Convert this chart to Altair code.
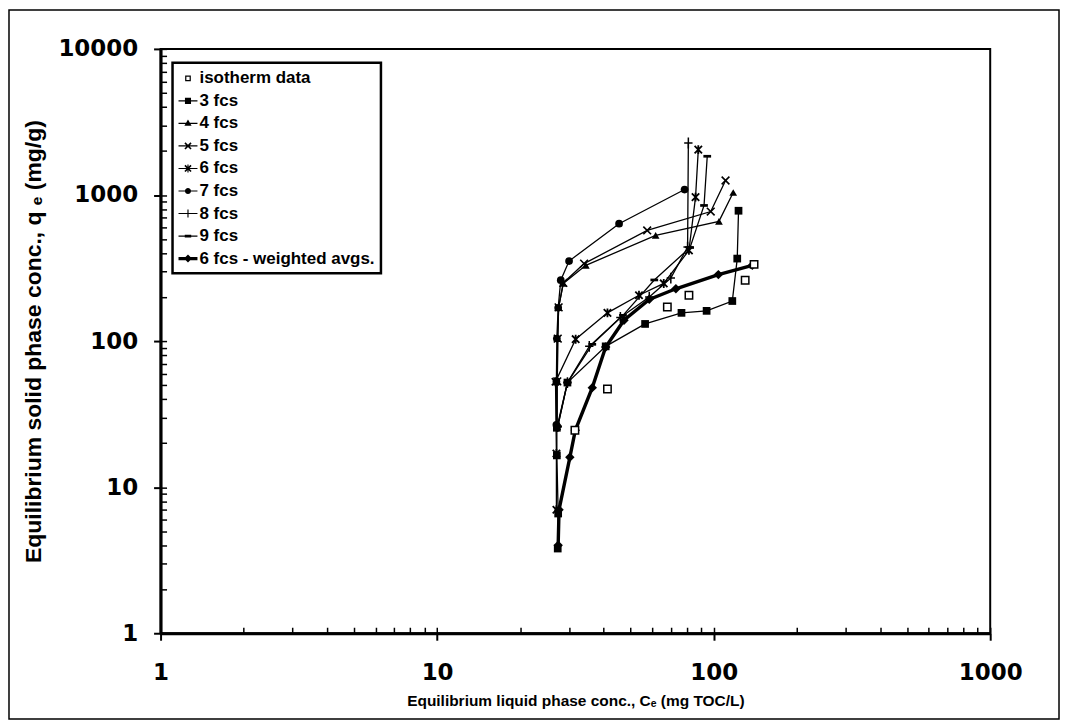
import altair as alt
import pandas as pd

# ---------------- data ----------------
series_names = ["isotherm data", "3 fcs", "4 fcs", "5 fcs", "6 fcs",
                "7 fcs", "8 fcs", "9 fcs", "6 fcs - weighted avgs."]

iso_x = [31.5, 41.3, 68.0, 81.4, 130.0, 140.0]
iso_y = [24.5, 47.0, 171.0, 206.0, 261.0, 335.0]

f3_x = [27.3, 27.4, 27.1, 27.1, 29.6, 40.7, 56.5, 76.5, 94.3, 116.8, 121.7, 123.0]
f3_y = [3.8, 6.6, 16.5, 25.5, 52.0, 92.0, 131.0, 156.0, 161.0, 188.0, 367.0, 780.0]

f4_x = [27.2, 27.2, 27.3, 27.5, 28.6, 34.5, 61.7, 104.5, 117.7]
f4_y = [26.0, 53.0, 104.0, 170.0, 248.0, 330.0, 529.0, 660.0, 1040.0]

f5_x = [27.2, 27.3, 27.5, 28.6, 34.0, 57.5, 97.6, 110.4]
f5_y = [53.0, 104.0, 170.0, 250.0, 339.0, 572.0, 770.0, 1256.0]

f6_x = [27.0, 27.0, 26.8, 31.7, 41.3, 53.7, 66.0, 81.4, 86.0, 88.0]
f6_y = [7.0, 17.0, 52.7, 103.0, 156.0, 206.0, 248.0, 418.0, 966.0, 2045.0]

f7_x = [27.0, 27.0, 27.1, 27.4, 28.0, 30.0, 45.5, 78.5]
f7_y = [26.7, 52.7, 104.0, 169.0, 261.0, 353.0, 636.0, 1090.0]

f8_x = [27.3, 29.6, 35.5, 46.0, 58.5, 70.0, 80.5, 81.0]
f8_y = [26.0, 52.0, 92.0, 145.0, 200.0, 270.0, 440.0, 2270.0]

f9_x = [27.3, 29.6, 36.4, 47.0, 61.0, 82.2, 92.3, 94.8]
f9_y = [26.0, 52.0, 95.0, 150.0, 262.0, 437.0, 848.0, 1841.0]

wavg_x = [27.4, 27.6, 30.2, 31.6, 36.4, 40.7, 47.4, 58.5, 73.0, 104.0, 138.0]
wavg_y = [4.0, 7.0, 16.0, 24.5, 48.0, 91.0, 139.0, 193.0, 228.0, 285.0, 330.0]

x_major = [1, 10, 100, 1000]
y_major = [1, 10, 100, 1000, 10000]
x_minor = [m * d for d in [1, 10, 100] for m in range(1, 10)] + [1000]
y_minor = [m * d for d in [1, 10, 100, 1000] for m in range(1, 10)] + [10000]

x_title = "Equilibrium liquid phase conc., Cₑ (mg TOC/L)"
y_title = "Equilibrium solid phase conc., q   ₑ (mg/g)"

# ---------------- table ----------------
all_series = [
    (series_names[0], iso_x, iso_y),
    (series_names[1], f3_x, f3_y),
    (series_names[2], f4_x, f4_y),
    (series_names[3], f5_x, f5_y),
    (series_names[4], f6_x, f6_y),
    (series_names[5], f7_x, f7_y),
    (series_names[6], f8_x, f8_y),
    (series_names[7], f9_x, f9_y),
    (series_names[8], wavg_x, wavg_y),
]
rows = []
for name, xs_, ys_ in all_series:
    for i, (a, b) in enumerate(zip(xs_, ys_)):
        rows.append({"series": name, "x": a, "y": b, "i": i})
df = pd.DataFrame(rows)

W, H = 832, 586
FONT = "Liberation Sans"
NUMFONT = "DejaVu Sans"

xsc = alt.Scale(type="log", domain=[1, 1000], nice=False)
ysc = alt.Scale(type="log", domain=[1, 10000], nice=False)

x_plain = alt.X("x:Q", scale=xsc, axis=None)
y_plain = alt.Y("y:Q", scale=ysc, axis=None)

x_main = alt.X("x:Q", scale=xsc, axis=alt.Axis(
    values=x_major, format="d", tickSize=7, tickWidth=2, domainWidth=3,
    labelPadding=21, labelFlush=False, labelFont=NUMFONT, labelFontSize=23,
    title=x_title, titlePadding=9, titleFontSize=15.5, grid=False))
y_main = alt.Y("y:Q", scale=ysc, axis=alt.Axis(
    values=y_major, format="d", tickSize=7, tickWidth=2, domainWidth=3,
    labelPadding=16, labelFont=NUMFONT, labelFontSize=23,
    title=y_title, titlePadding=12, titleFontSize=23, grid=False))

x_in = alt.X("x:Q", scale=xsc, axis=alt.Axis(
    orient="top", offset=-H, values=x_minor, labels=False, domain=False,
    tickSize=6, tickWidth=1.5, title=None, grid=False))
y_in = alt.Y("y:Q", scale=ysc, axis=alt.Axis(
    orient="right", offset=-W, values=y_minor, labels=False, domain=False,
    tickSize=6, tickWidth=1.5, title=None, grid=False))

def sel(name):
    return alt.datum.series == name

frame = alt.Chart(pd.DataFrame({"f": [0]})).mark_rect(
    fillOpacity=0, stroke="black", strokeWidth=1.5
).encode(x=alt.value(-152), x2=alt.value(901), y=alt.value(-39), y2=alt.value(672))

thin_names = series_names[1:8]
thin = alt.Chart(df).transform_filter(
    alt.FieldOneOfPredicate(field="series", oneOf=thin_names)
).mark_line(color="black", strokeWidth=1.3).encode(
    x=x_main, y=y_main, detail="series:N", order="i:Q")

heavy = alt.Chart(df).transform_filter(sel(series_names[8])).mark_line(
    color="black", strokeWidth=3.4).encode(x=x_plain, y=y_plain, order="i:Q")

X_P = "M-1,-1L1,1M-1,1L1,-1"
AST_P = "M-1,-1L1,1M-1,1L1,-1M0,-1.2L0,1.2"
PLUS_P = "M-1,0L1,0M0,-1.3L0,1.3"
DASH_P = "M-1,-0.35L1,-0.35L1,0.35L-1,0.35Z"

def pts(name, shape, size, filled=True, sw=1.0):
    if filled:
        m = alt.Chart(df).transform_filter(sel(name)).mark_point(
            shape=shape, size=size, filled=True, color="black", opacity=1)
    else:
        m = alt.Chart(df).transform_filter(sel(name)).mark_point(
            shape=shape, size=size, filled=False, color="black", opacity=1,
            strokeWidth=sw)
    return m.encode(x=x_plain, y=y_plain)

p3 = pts(series_names[1], "square", 60)
p4 = pts(series_names[2], "triangle-up", 60)
p5 = pts(series_names[3], X_P, 60, filled=False, sw=1.6)
p6 = pts(series_names[4], AST_P, 55, filled=False, sw=1.8)
p7 = pts(series_names[5], "circle", 60)
p8 = pts(series_names[6], PLUS_P, 70, filled=False, sw=1.5)
p9 = pts(series_names[7], DASH_P, 60)
pw = pts(series_names[8], "diamond", 90)

iso = alt.Chart(df).transform_filter(sel(series_names[0])).mark_point(
    shape="square", size=55, filled=True, fill="white", stroke="black",
    strokeWidth=1.5, opacity=1).encode(x=x_in, y=y_in)

# legend symbols (line + marker), all drawn as filled polygons
LN = "M-1,-0.06L1,-0.06L1,0.06L-1,0.06Z "
SQ = "M-0.32,-0.32L0.32,-0.32L0.32,0.32L-0.32,0.32Z"
TRI = "M0,-0.42L0.38,0.26L-0.38,0.26Z"
XB = ("M-0.26,-0.38L0.38,0.26L0.26,0.38L-0.38,-0.26Z "
      "M-0.38,0.26L0.26,-0.38L0.38,-0.26L-0.26,0.38Z")
VB = "M-0.06,-0.42L0.06,-0.42L0.06,0.42L-0.06,0.42Z"
CIR = "M-0.32,0A0.32,0.32,0,1,1,0.32,0A0.32,0.32,0,1,1,-0.32,0Z"
DSH = "M-0.34,-0.14L0.34,-0.14L0.34,0.14L-0.34,0.14Z"
legend_paths = [
    "M-0.3,-0.3L0.3,-0.3L0.3,0.3L-0.3,0.3Z M-0.17,-0.17L-0.17,0.17L0.17,0.17L0.17,-0.17Z",
    LN + SQ,
    LN + TRI,
    LN + XB,
    LN + XB + " " + VB,
    LN + CIR,
    LN + VB,
    LN + DSH,
    "M-1,-0.18L1,-0.18L1,0.18L-1,0.18Z M0,-0.42L0.42,0L0,0.42L-0.42,0Z",
]

legend_layer = alt.Chart(pd.DataFrame({"series": series_names})).transform_filter(
    "false"
).mark_point(filled=True, color="black", size=361, opacity=1).encode(
    shape=alt.Shape("series:N", sort=series_names,
                    scale=alt.Scale(domain=series_names, range=legend_paths),
                    legend=alt.Legend(
                        title=None, orient="none", legendX=12, legendY=14,
                        padding=6, strokeColor="black", fillColor="white",
                        symbolSize=361, symbolFillColor="black",
                        symbolStrokeColor="black", symbolStrokeWidth=0,
                        labelFont=FONT, labelFontWeight="bold",
                        labelFontSize=17, labelColor="black",
                        labelLimit=400, labelOffset=2, rowPadding=4.6))
)

chart = alt.layer(
    frame, thin, heavy, p3, p4, p5, p6, p7, p8, p9, pw, iso, legend_layer
).resolve_axis(x="independent", y="independent").properties(
    width=W, height=H, autosize="none",
    padding={"left": 153, "top": 40, "right": 72, "bottom": 88},
    background="white"
).configure_view(stroke="black", strokeWidth=2).configure_axis(
    labelFont=FONT, labelFontWeight="bold", labelFontSize=18, labelColor="black",
    titleFont=FONT, titleFontWeight="bold", titleFontSize=17, titleColor="black",
    tickColor="black", domainColor="black"
).configure_legend(strokeWidth=2.5)

chart.save("out.html", embed_options={"renderer": "svg", "actions": False})
